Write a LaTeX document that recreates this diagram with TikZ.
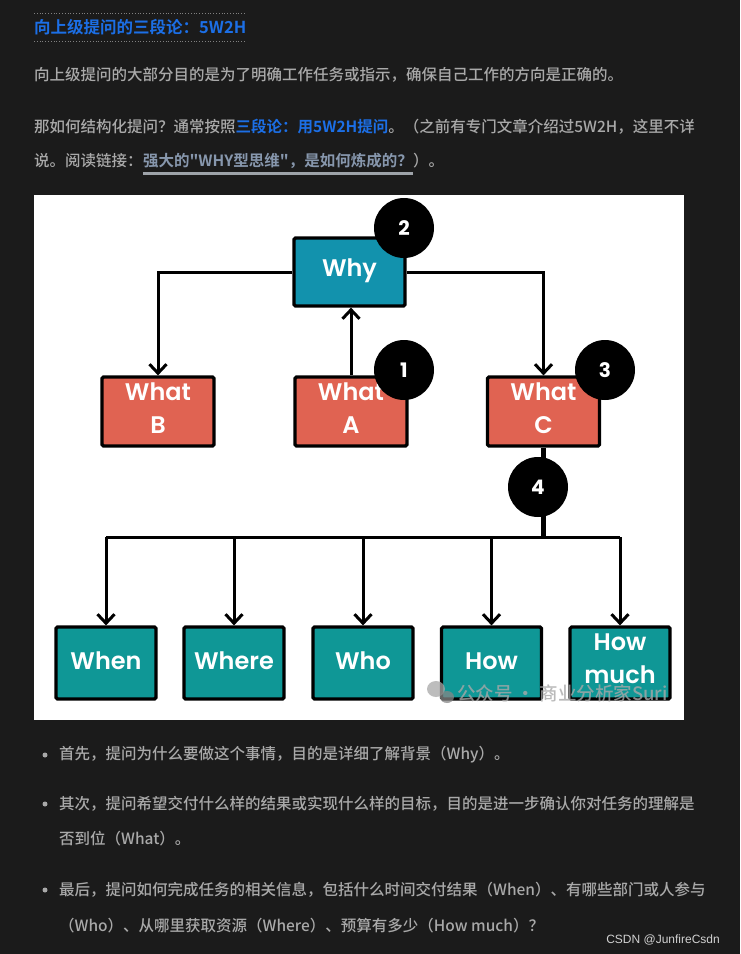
\documentclass[tikz,border=0pt]{standalone}
\usepackage{fontspec}
\usetikzlibrary{arrows.meta,shapes.geometric}
\newfontfamily\cjk{Noto Sans CJK SC}[UprightFont=* Medium, BoldFont=* Bold]
\newfontfamily\dfont{Poppins}[UprightFont=* SemiBold, BoldFont=* Bold]
\newfontfamily\sfont{Liberation Sans}
\definecolor{bg}{HTML}{1B1B1B}
\definecolor{bodytxt}{HTML}{A9A9A9}
\definecolor{titleblue}{HTML}{1C6FE6}
\definecolor{linkc}{HTML}{8797AD}
\definecolor{ulc}{HTML}{9EA3A9}
\definecolor{whyc}{HTML}{1292AD}
\definecolor{whatc}{HTML}{E06352}
\definecolor{wc}{HTML}{0F9796}
\definecolor{wm}{HTML}{A8A8A8}
\begin{document}
\begin{tikzpicture}[x=1pt,y=-1pt,
  txt/.style={anchor=west, inner sep=0pt, text=bodytxt, font=\cjk\fontsize{15.5}{18}\selectfont},
  ttl/.style={anchor=west, inner sep=0pt, text=titleblue, font=\cjk\bfseries\fontsize{16.5}{18}\selectfont},
  dotline/.style={draw=gray, dotted, line width=0.8pt},
  bul/.style={circle, fill=bodytxt, inner sep=0pt, minimum size=5pt},
  box/.style={draw=black, line width=3.2pt, rounded corners=1.5pt, inner sep=0pt},
  boxtxt/.style={text=white, align=center, inner sep=0pt, font=\dfont\fontsize{24}{33}\selectfont},
  whybox/.style={box, fill=whyc, minimum width=111pt, minimum height=68pt},
  whatbox/.style={box, fill=whatc, minimum width=112pt, minimum height=69pt},
  wbox/.style={box, fill=wc, minimum width=100pt, minimum height=72pt},
  num/.style={ellipse, fill=black, minimum width=60pt, minimum height=60pt, inner sep=0pt,
     text=white, font=\dfont\bfseries\fontsize{20}{20}\selectfont},
  conn/.style={draw=black, line width=3pt},
  arr/.style={conn, -{Straight Barb[length=9pt,width=17pt,line width=3pt]}},
  thickconn/.style={draw=black, line width=5.5pt}
]
\useasboundingbox (0,0) rectangle (740,954);
\fill[bg] (0,0) rectangle (740,954);

% heading
\coordinate (dl1a) at (34,13); \coordinate (dl1b) at (246,13);
\coordinate (dl2a) at (34,41); \coordinate (dl2b) at (246,41);
\draw[dotline] (dl1a) -- (dl1b);
\draw[dotline] (dl2a) -- (dl2b);
\node[ttl] (title) at (34,27) {向上级提问的三段论：5W2H};

\node[txt] (p1) at (34,75) {向上级提问的大部分目的是为了明确工作任务或指示，确保自己工作的方向是正确的。};

\node[txt] (p2a) at (34,127) {那如何结构化提问？通常按照{\color{titleblue}\bfseries 三段论：用5W2H提问}。（之前有专门文章介绍过5W2H，这里不详};
\node[txt] (p2b) at (34,161) {说。阅读链接：};
\node[txt, anchor=base west, text=linkc, font=\cjk\bfseries\fontsize{15.5}{18}\selectfont] (link) at (p2b.base east) {强大的"WHY型思维"，是如何炼成的？};
\node[txt, anchor=base west] (p2c) at (link.base east) {）。};
\draw[ulc, line width=2.5pt] ([yshift=-4.5pt]link.south west) -- ([yshift=-4.5pt]link.south east);

% diagram
\fill[white] (34,195) rectangle (684,720);

\node[whybox] (why) at (349.5,272) {};
\node[whatbox] (whatb) at (158,411.5) {};
\node[whatbox] (whata) at (351,411.5) {};
\node[whatbox] (whatc) at (543.5,411.5) {};

\node[wbox] (when) at (106,663) {};
\node[wbox] (where) at (234,663) {};
\node[wbox] (who) at (363,663) {};
\node[wbox] (how) at (491.5,663) {};
\node[wbox] (howmuch) at (620,663) {};

\node[boxtxt] (whyt) at ([yshift=1pt]why.center) {Why};
\node[boxtxt] (whatbt) at ([yshift=3pt]whatb.center) {What\\B};
\node[boxtxt] (whatat) at ([yshift=3pt]whata.center) {What\\A};
\node[boxtxt] (whatct) at ([yshift=3pt]whatc.center) {What\\C};
\node[boxtxt] (whent) at ([yshift=2pt]when.center) {When};
\node[boxtxt] (wheret) at ([yshift=2pt]where.center) {Where};
\node[boxtxt] (whot) at ([yshift=2pt]who.center) {Who};
\node[boxtxt] (howt) at ([yshift=2pt]how.center) {How};
\node[boxtxt] (howmucht) at ([yshift=4pt]howmuch.center) {How\\much};

\draw[arr] (why.west) -| (whatb.north);
\draw[arr] (why.east) -| (whatc.north);
\draw[arr] (whata.north) -- (whata.north |- why.south);

\coordinate (bus) at (543.5,537);
\draw[thickconn] (whatc.south) -- (bus);
\draw[conn] (when.north |- bus) -- (howmuch.north |- bus);
\draw[arr] (when.north |- bus) -- (when.north);
\draw[arr] (where.north |- bus) -- (where.north);
\draw[arr] (who.north |- bus) -- (who.north);
\draw[arr] (how.north |- bus) -- (how.north);
\draw[arr] (howmuch.north |- bus) -- (howmuch.north);

\node[num] (n2) at (404,228) {2};
\node[num] (n1) at (404,370) {1};
\node[num] (n3) at (605,370) {3};
\node[num] (n4) at (538,487) {4};

% watermark
\fill[wm, opacity=0.75] (436,689) ellipse [x radius=9pt, y radius=8pt];
\fill[wm!80!black, opacity=0.75] (447,697) ellipse [x radius=7pt, y radius=6pt];
\node[anchor=west, inner sep=0pt, text=wm, opacity=0.8, font=\cjk\fontsize{18.5}{20}\selectfont] (wmtext) at (457,693) {公众号 · 商业分析家Suri};

% bullets
\node[bul] (b1) at (45,755) {};
\node[txt] (t1) at (59,755) {首先，提问为什么要做这个事情，目的是详细了解背景（Why）。};
\node[bul] (b2) at (45,804) {};
\node[txt] (t2) at (59,804) {其次，提问希望交付什么样的结果或实现什么样的目标，目的是进一步确认你对任务的理解是};
\node[txt] (t2b) at (59,839) {否到位（What）。};
\node[bul] (b3) at (45,890) {};
\node[txt] (t3) at (59,890) {最后，提问如何完成任务的相关信息，包括什么时间交付结果（When）、有哪些部门或人参与};
\node[txt] (t3b) at (59,926) {（Who）、从哪里获取资源（Where）、预算有多少（How much）？};

\node[anchor=east, inner sep=0pt, text=white!82!black, font=\sfont\fontsize{12}{14}\selectfont] (csdn) at (720,940) {CSDN @JunfireCsdn};
\end{tikzpicture}
\end{document}
